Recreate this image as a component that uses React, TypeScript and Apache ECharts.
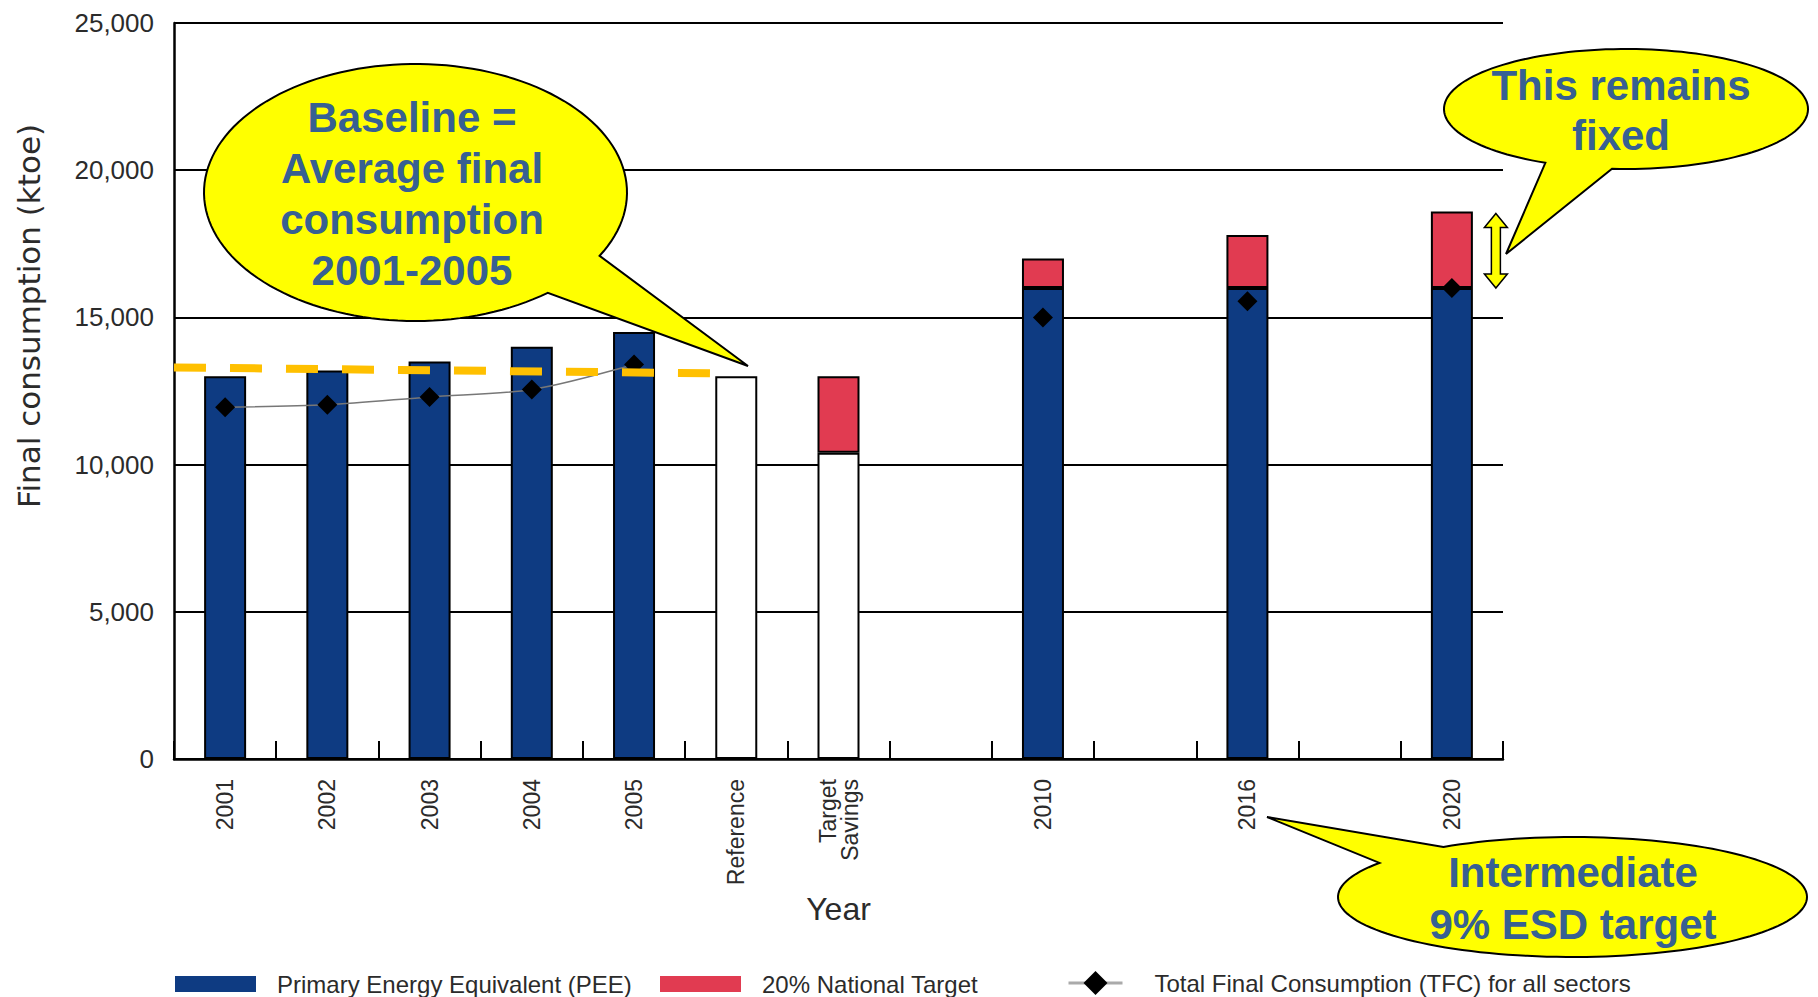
import React, { useEffect, useRef } from "react";
import * as echarts from "echarts";

// ---------- data ----------
const categories = ["2001", "2002", "2003", "2004", "2005", "Reference", "Target\nSavings", " ", "2010", "  ", "2016", "   ", "2020"];
const peeValues = [13000, 13200, 13500, 14000, 14500, 13000, 10400, null, 16000, null, 16000, null, 16000];
const whiteBaseIdx = [5, 6];
const targetValues = [null, null, null, null, null, null, 2600, null, 1000, null, 1800, null, 2600];
const tfcValues = [11950, 12030, 12300, 12550, 13400, null, null, null, 15000, null, 15550, null, 16000];
const yMin = 0;
const yMax = 25000;
const yInterval = 5000;
// hand-drawn average baseline (category-position units, value units)
const baselineX = [0, 5.25];
const baselineY = [13300, 13100];
// "fixed" range arrow beside 2020 bar
const fixedRangeCat = 12.5;
const fixedRange = [16000, 18600];

const PEE = "Primary Energy Equivalent (PEE)";
const TGT = "20% National Target";
const TFC = "Total Final Consumption (TFC) for all sectors";

const TXT = "#2b2b2b";
const BLUE = "#0E3B82";
const RED = "#E13B51";
const YEL = "#FFFF00";
const NOTE = "#376092";

function calloutPoints(cx: number, cy: number, rx: number, ry: number, a0: number, a1: number, tip: number[]) {
  const pts: number[][] = [];
  const n = 140;
  for (let i = 0; i <= n; i++) {
    const t = ((a0 + ((a1 - a0) * i) / n) * Math.PI) / 180;
    pts.push([cx + rx * Math.cos(t), cy + ry * Math.sin(t)]);
  }
  pts.push(tip);
  return pts;
}

export default function App() {
  const ref = useRef<HTMLDivElement>(null);
  useEffect(() => {
    document.body.style.margin = "0";
    if (!ref.current) return;
    const chart = echarts.init(ref.current, undefined, { renderer: "svg" });
    const legendText = (pad: number) => ({
      fontFamily: "Liberation Sans",
      fontSize: 24,
      color: TXT,
      padding: [0, 0, 0, pad],
    });
    const option: any = {
      animation: false,
      backgroundColor: "#fff",
      grid: { left: 174, right: 315, top: 23, bottom: 238, containLabel: false },
      xAxis: [
        {
          type: "category",
          data: categories,
          boundaryGap: true,
          axisLine: { show: true, lineStyle: { color: "#000", width: 2.5 } },
          axisTick: { show: true, inside: true, length: 18, interval: 0, lineStyle: { color: "#000", width: 2 } },
          axisLabel: {
            interval: 0,
            rotate: 90,
            margin: 20,
            fontFamily: "Liberation Sans",
            fontSize: 23,
            lineHeight: 22,
            color: TXT,
          },
          splitLine: { show: false },
          name: "Year",
          nameLocation: "middle",
          nameGap: 134,
          nameTextStyle: { fontFamily: "Liberation Sans", fontSize: 32, color: TXT },
        },
        { type: "value", min: 0, max: categories.length, show: false, gridIndex: 0 },
      ],
      yAxis: {
        type: "value",
        min: yMin,
        max: yMax,
        interval: yInterval,
        axisLine: { show: true, lineStyle: { color: "#000", width: 2.5 } },
        axisTick: { show: false },
        splitLine: { show: true, lineStyle: { color: "#000", width: 2 } },
        axisLabel: {
          margin: 20,
          fontFamily: "Liberation Sans",
          fontSize: 26,
          color: TXT,
          formatter: (v: number) => v.toLocaleString("en-US"),
        },
      },
      legend: [
        {
          data: [PEE], left: 175, top: 972, padding: 0, itemWidth: 81, itemHeight: 16, icon: "rect",
          itemStyle: { borderWidth: 0 }, selectedMode: false, textStyle: legendText(16),
        },
        {
          data: [TGT], left: 660, top: 972, padding: 0, itemWidth: 81, itemHeight: 16, icon: "rect",
          itemStyle: { borderWidth: 0 }, selectedMode: false, textStyle: legendText(16),
        },
        {
          data: [TFC], left: 1067, top: 971, padding: 0, itemWidth: 54, itemHeight: 30,
          lineStyle: { color: "#aaa", width: 3 }, selectedMode: false, textStyle: legendText(27),
        },
      ],
      series: [
        {
          name: PEE,
          type: "bar",
          stack: "total",
          barWidth: 42,
          z: 2,
          itemStyle: { color: BLUE, borderColor: "#000", borderWidth: 2 },
          data: peeValues.map((v, i) =>
            whiteBaseIdx.includes(i) ? { value: v, itemStyle: { color: "#fff" } } : v
          ),
        },
        {
          name: TGT,
          type: "bar",
          stack: "total",
          barWidth: 42,
          z: 2,
          itemStyle: { color: RED, borderColor: "#000", borderWidth: 2 },
          data: targetValues,
        },
        {
          name: TFC,
          type: "line",
          z: 3,
          smooth: 0.3,
          connectNulls: false,
          symbol: "diamond",
          symbolSize: 20,
          showSymbol: true,
          showAllSymbol: true,
          lineStyle: { color: "#777", width: 1.5 },
          itemStyle: { color: "#000" },
          data: tfcValues,
        },
        {
          name: "baseline",
          type: "line",
          xAxisIndex: 1,
          z: 4,
          symbol: "none",
          lineStyle: { color: "#FFC000", width: 8, type: [32, 24], cap: "butt" },
          data: baselineX.map((x, i) => [x, baselineY[i]]),
        },
      ],
    };
    chart.setOption(option);

    const px = (x: number, y: number) => chart.convertToPixel({ seriesIndex: 3 }, [x, y]) as number[];
    const aTop = px(fixedRangeCat, fixedRange[1]);
    const aBot = px(fixedRangeCat, fixedRange[0]);
    const ax = aTop[0] + 44;
    const yt = aTop[1] + 2;
    const yb = aBot[1];
    const hw = 11.5, sw = 4.5, hh = 14;
    const arrow = [
      [ax, yt], [ax + hw, yt + hh], [ax + sw, yt + hh], [ax + sw, yb - hh], [ax + hw, yb - hh],
      [ax, yb], [ax - hw, yb - hh], [ax - sw, yb - hh], [ax - sw, yt + hh], [ax - hw, yt + hh],
    ];

    const bubble = (pts: number[][]) => ({
      type: "polygon",
      z: 100,
      shape: { points: pts },
      style: { fill: YEL, stroke: "#000", lineWidth: 2 },
    });
    const note = (x: number, y: number, text: string, lh: number) => ({
      type: "text",
      z: 101,
      x,
      y,
      style: {
        text,
        fill: NOTE,
        fontFamily: "Liberation Sans",
        fontWeight: "bold",
        fontSize: 42,
        lineHeight: lh,
        textAlign: "center",
        textVerticalAlign: "middle",
      },
    });

    chart.setOption({
      graphic: [
        {
          type: "text",
          x: 29,
          y: 316,
          rotation: Math.PI / 2,
          style: {
            text: "Final consumption (ktoe)",
            fontFamily: "DejaVu Sans",
            fontSize: 31,
            fill: TXT,
            textAlign: "center",
            textVerticalAlign: "middle",
          },
        },
        { type: "polygon", z: 100, shape: { points: arrow }, style: { fill: YEL, stroke: "#000", lineWidth: 1.5 } },
        bubble(calloutPoints(415.5, 192.5, 211.5, 128.5, 51.3, 389.5, [748, 366])),
        note(412, 194, "Baseline =\nAverage final\nconsumption\n2001-2005", 51),
        bubble(calloutPoints(1626, 109, 182, 60, 116.3, 454.4, [1506, 254])),
        note(1621, 110, "This remains\nfixed", 50),
        bubble(calloutPoints(1572.5, 897, 234.5, 60, 236.6, 574.6, [1267, 817])),
        note(1573, 898, "Intermediate\n9% ESD target", 52),
      ],
    });

    return () => chart.dispose();
  }, []);
  return <div ref={ref} style={{ width: 1818, height: 997 }} />;
}
